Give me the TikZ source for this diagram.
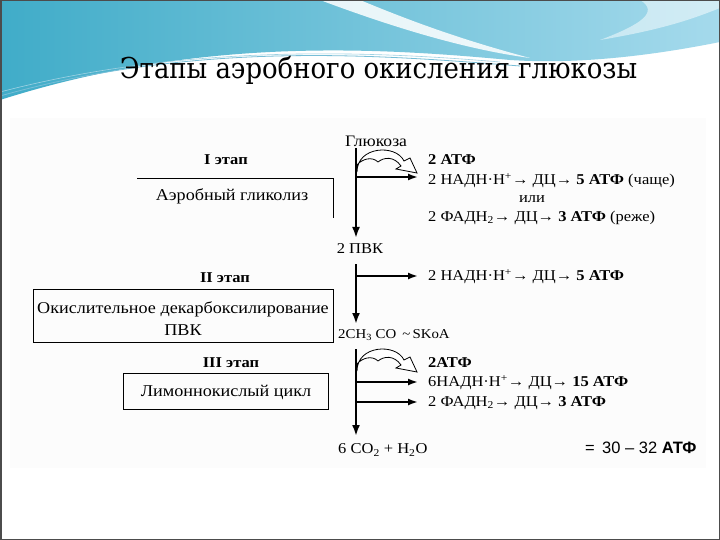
\documentclass[tikz,border=0pt]{standalone}
\usepackage{fontspec}
\setmainfont[FakeStretch=1.1]{Liberation Serif}
\newfontfamily\titlef{DejaVu Serif Condensed}
\newfontfamily\arialf{Liberation Sans}
\usetikzlibrary{arrows.meta}
\definecolor{hdrL}{RGB}{64,172,200}
\definecolor{hdrR}{RGB}{165,218,236}
\definecolor{hdrLine}{RGB}{120,190,215}
\begin{document}
\begin{tikzpicture}[x=1pt,y=-1pt,
  txt/.style={font=\fontsize{15}{17}\selectfont, inner sep=0pt},
  btxt/.style={font=\bfseries\fontsize{15}{17}\selectfont, inner sep=0pt},
  rtxt/.style={txt, anchor=west},
  lbl/.style={font=\fontsize{16.5}{22}\selectfont, inner sep=0pt, align=center},
  mainline/.style={line width=2.4pt, -{Latex[length=11pt,width=8pt]}},
  branch/.style={line width=1.8pt, -{Latex[length=10pt,width=7pt]}},
  blockarrow/.style={draw=black, line width=0.8pt, fill=white},
  stagebox/.style={draw, line width=0.9pt, inner sep=0pt},
  curvy/.pic={\draw[blockarrow] (1,2) .. controls (1,-24) and (40,-26) .. (48,-9) -- (54,-12) -- (61,3) -- (40,-1) -- (45,-4) .. controls (38,-14) and (28,-13) .. (22,-8) .. controls (16,-14) and (6,-11) .. (1,-5) -- cycle;}
]
\useasboundingbox (0,0) rectangle (720,540);
\fill[white] (0,0) rectangle (720,540);
% header
\shade[left color=hdrL, right color=hdrR] (0,0) -- (720,0) -- (720,42) .. controls (640,58) and (570,64) .. (510,60) .. controls (380,48) and (200,36) .. (0,100) -- cycle;
\fill[white, opacity=0.85] (320,0) -- (360,0) .. controls (420,25) and (470,42) .. (530,58) .. controls (470,50) and (400,30) .. (320,0) -- cycle;
\fill[white, opacity=0.5] (640,0) -- (720,0) -- (720,8) .. controls (690,20) and (660,30) .. (600,40) .. controls (640,25) and (660,12) .. (640,0) -- cycle;
\draw[hdrLine, line width=0.8pt] (0,96) .. controls (200,40) and (380,55) .. (520,66);
\draw[hdrLine!70, line width=0.6pt] (0,92) .. controls (180,45) and (360,50) .. (500,62);
% content background
\fill[black!1] (10,118) rectangle (706,468);
% border
\draw[gray!60!black, line width=1.5pt] (0.75,0.75) rectangle (719.25,539.25);
% title
\node[font=\titlef\fontsize{28.8}{32}\selectfont, inner sep=0pt] (title) at (378.5,70) {Этапы аэробного окисления глюкозы};

% Stage I
\node[font=\fontsize{16}{18}\selectfont, inner sep=0pt] (glu) at (376,141) {Глюкоза};
\node[txt] (pvk) at (360,249) {2 ПВК};
\node[btxt] (st1) at (226,160) {I этап};
\node[lbl] (gly) at (232,196) {Аэробный гликолиз};
\coordinate (br1a) at (137,178);
\coordinate (br1b) at (333,178);
\coordinate (br1c) at (333,218);
\draw[line width=0.9pt] (br1a) -- (br1b) -- (br1c);
\node[rtxt] (a1) at (428,160) {\textbf{2 АТФ}};
\node[rtxt] (a2) at (428,181) {2 НАДН·Н\textsuperscript{+}→ ДЦ→ \textbf{5 АТФ} (чаще)};
\node[txt] (a3) at (532,199) {или};
\node[rtxt] (a4) at (428,218) {2 ФАДН\textsubscript{2}→ ДЦ→ \textbf{3 АТФ} (реже)};
\coordinate (m1s) at (356,148);
\coordinate (m1e) at (356,238);
\draw[mainline] (m1s) -- (m1e);
\coordinate (b1s) at (356,177);
\coordinate (b1e) at (418,177);
\draw[branch] (b1s) -- (b1e);
\pic at (356,170) {curvy};

% Stage II
\node[btxt] (st2) at (225,278) {II этап};
\node[stagebox, minimum width=300pt, minimum height=53pt] (box2) at (183,315.5) {};
\node[lbl] (box2t) at (183,319) {Окислительное декарбоксилирование\\ПВК};
\node[rtxt] (c1) at (428,277) {2 НАДН·Н\textsuperscript{+}→ ДЦ→ \textbf{5 АТФ}};
\node[anchor=west, inner sep=0pt, font=\fontsize{13.5}{16}\selectfont] (acoa) at (338,335) {2CH\textsubscript{3} CO \,\textasciitilde\,SKoA};
\coordinate (m2s) at (356,264);
\coordinate (m2e) at (356,324);
\draw[mainline] (m2s) -- (m2e);
\coordinate (b2s) at (356,276);
\coordinate (b2e) at (418,276);
\draw[branch] (b2s) -- (b2e);

% Stage III
\node[btxt] (st3) at (231,363) {III этап};
\node[stagebox, minimum width=205pt, minimum height=36pt] (box3) at (225.5,391) {};
\node[lbl] (box3t) at (226,392) {Лимоннокислый цикл};
\node[rtxt] (d1) at (428,363) {\textbf{2АТФ}};
\node[rtxt] (d2) at (428,383) {6НАДН·Н\textsuperscript{+}→ ДЦ→ \textbf{15 АТФ}};
\node[rtxt] (d3) at (428,403) {2 ФАДН\textsubscript{2}→ ДЦ→ \textbf{3 АТФ}};
\node[rtxt] (co2) at (338,450) {6 CO\textsubscript{2} + H\textsubscript{2}O};
\node[anchor=west, inner sep=0pt, font=\arialf\fontsize{16.5}{18}\selectfont] (sum) at (585,448) {= \,30 – 32 \textbf{АТФ}};
\coordinate (m3s) at (356,349);
\coordinate (m3e) at (356,436);
\draw[mainline] (m3s) -- (m3e);
\coordinate (b3s) at (356,382);
\coordinate (b3e) at (418,382);
\draw[branch] (b3s) -- (b3e);
\coordinate (b4s) at (356,402);
\coordinate (b4e) at (418,402);
\draw[branch] (b4s) -- (b4e);
\pic at (356,369) {curvy};
\end{tikzpicture}
\end{document}
